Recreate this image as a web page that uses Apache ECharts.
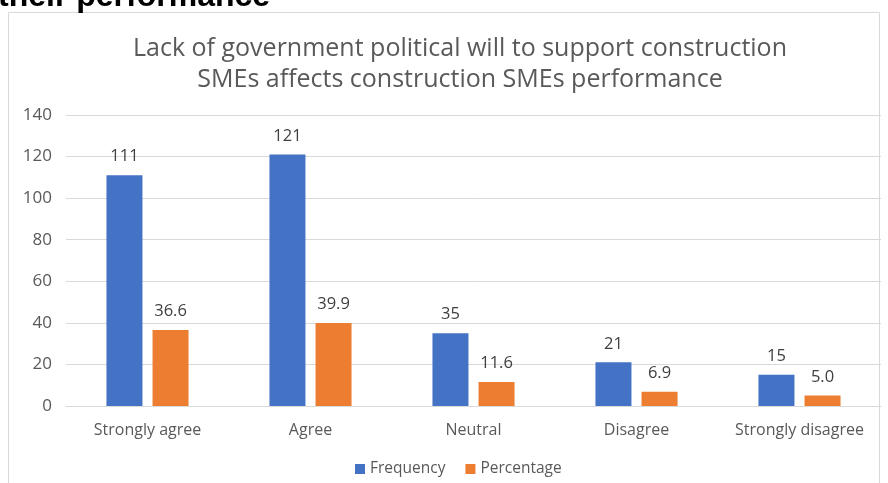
<!DOCTYPE html>
<html>
<head>
<meta charset="utf-8">
<script src="https://cdn.jsdelivr.net/npm/echarts@6/dist/echarts.min.js"></script>
<style>
  html, body { margin: 0; padding: 0; background: #fff; }
  #chart { width: 888px; height: 483px; }
</style>
</head>
<body>
<div id="chart"></div>
<script>
// Survey responses
const categories = ['Strongly agree', 'Agree', 'Neutral', 'Disagree', 'Strongly disagree'];
const frequency = [111, 121, 35, 21, 15];
const percentage = [36.6, 39.9, 11.6, 6.9, 5.0];
const yTicks = { min: 0, max: 140, interval: 20 };

const font = 'Open Sans, Lato, sans-serif';
const chart = echarts.init(document.getElementById('chart'), null, { renderer: 'canvas' });

chart.setOption({
  backgroundColor: '#ffffff',
  animation: false,
  title: {
    text: 'Lack of government political will to support construction\nSMEs affects construction SMEs performance',
    left: 455,
    textAlign: 'center',
    top: 28,
    textStyle: { fontFamily: font, fontSize: 25, fontWeight: 'normal', color: '#595959', lineHeight: 31 }
  },
  legend: {
    top: 456,
    left: 350,
    itemWidth: 10,
    itemHeight: 10,
    itemGap: 20,
    icon: 'rect',
    textStyle: { fontFamily: font, fontSize: 15.5, color: '#595959' },
    data: ['Frequency', 'Percentage']
  },
  grid: { left: 66, right: 7, top: 115, bottom: 77 },
  xAxis: {
    type: 'category',
    data: categories,
    axisLine: { lineStyle: { color: '#d9d9d9' } },
    axisTick: { show: false },
    axisLabel: { fontFamily: font, fontSize: 16, color: '#595959', margin: 16, interval: 0, hideOverlap: false }
  },
  yAxis: {
    type: 'value',
    min: yTicks.min,
    max: yTicks.max,
    interval: yTicks.interval,
    axisLine: { show: false },
    axisTick: { show: false },
    splitLine: { lineStyle: { color: '#d9d9d9' } },
    axisLabel: { fontFamily: font, fontSize: 17, color: '#595959', margin: 14 }
  },
  series: [
    {
      name: 'Frequency',
      type: 'bar',
      data: frequency,
      barWidth: 36,
      barGap: '28%',
      itemStyle: { color: '#4472c4' },
      label: {
        show: true, position: 'top', distance: 10,
        fontFamily: font, fontSize: 16.5, color: '#404040',
        formatter: p => String(p.value)
      }
    },
    {
      name: 'Percentage',
      type: 'bar',
      data: percentage,
      barWidth: 36,
      itemStyle: { color: '#ed7d31' },
      label: {
        show: true, position: 'top', distance: 10,
        fontFamily: font, fontSize: 16.5, color: '#404040',
        formatter: p => p.value.toFixed(1)
      }
    }
  ],
  graphic: [
    {
      type: 'rect',
      shape: { x: 8.5, y: 12.5, width: 871, height: 480 },
      style: { fill: 'none', stroke: '#d9d9d9', lineWidth: 1 },
      silent: true
    },
    {
      type: 'text',
      x: -2,
      y: -19,
      style: {
        text: 'their performance',
        font: 'bold 32px "Liberation Sans", Arial, sans-serif',
        fill: '#000000'
      },
      silent: true
    }
  ]
});
</script>
</body>
</html>
